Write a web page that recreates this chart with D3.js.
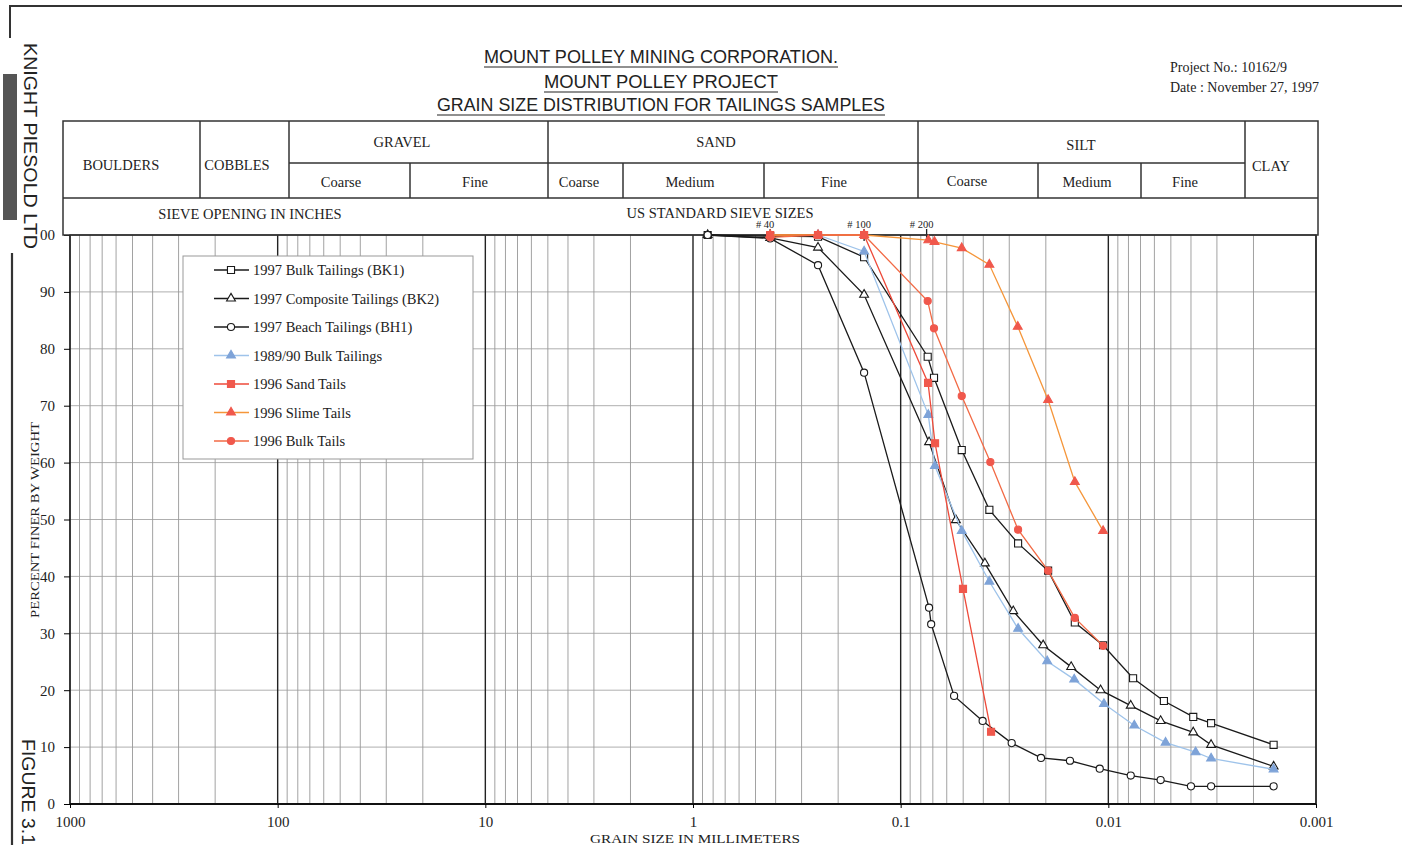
<!DOCTYPE html>
<html>
<head>
<meta charset="utf-8">
<script src="https://cdn.jsdelivr.net/npm/d3@7"></script>
<style>
  body { margin: 0; background: #fff; }
  svg { display: block; }
  text { font-family: "Liberation Serif", "Times New Roman", serif; fill: #222; }
  .sans { font-family: "Liberation Sans", Arial, sans-serif; }
</style>
</head>
<body>
<div id="chart"></div>
<script>
// grain sizes (mm) and percent finer for each sample
const bk1Size = [0.85, 0.425, 0.25, 0.15, 0.0741, 0.0691, 0.0508, 0.0374, 0.0272, 0.0195, 0.0145, 0.0106, 0.0076, 0.0054, 0.0039, 0.0032, 0.0016]
const bk1Pct  = [100, 99.8, 99.7, 96.1, 78.6, 74.9, 62.2, 51.7, 45.8, 41.0, 31.9, 27.9, 22.1, 18.1, 15.3, 14.2, 10.4]

const bk2Size = [0.85, 0.425, 0.25, 0.15, 0.073, 0.0542, 0.0393, 0.0287, 0.0206, 0.0151, 0.0109, 0.0078, 0.0056, 0.0039, 0.0032, 0.0016]
const bk2Pct  = [100, 99.5, 97.8, 89.5, 63.6, 49.9, 42.3, 33.9, 27.9, 24.1, 20.0, 17.3, 14.6, 12.6, 10.4, 6.6]

const bh1Size = [0.85, 0.425, 0.25, 0.15, 0.073, 0.0713, 0.0553, 0.0403, 0.0292, 0.0211, 0.0153, 0.011, 0.0078, 0.0056, 0.004, 0.0032, 0.0016]
const bh1Pct  = [100, 99.4, 94.7, 75.8, 34.5, 31.6, 19.0, 14.6, 10.7, 8.1, 7.6, 6.2, 5.0, 4.2, 3.1, 3.1, 3.1]

const bulk8990Size = [0.25, 0.15, 0.0736, 0.0684, 0.0508, 0.0374, 0.0272, 0.0197, 0.0146, 0.0105, 0.0075, 0.0053, 0.0038, 0.0032, 0.0016]
const bulk8990Pct  = [100, 97.1, 68.4, 59.4, 48.0, 39.1, 30.8, 25.1, 21.9, 17.6, 13.8, 10.8, 9.1, 8.0, 6.1]

const sand96Size = [0.425, 0.25, 0.15, 0.0738, 0.0683, 0.0501, 0.0367]
const sand96Pct  = [100, 100, 100, 74.0, 63.4, 37.8, 12.7]

const slime96Size = [0.425, 0.25, 0.15, 0.0736, 0.0687, 0.0508, 0.0374, 0.0273, 0.0195, 0.0145, 0.0106]
const slime96Pct  = [100, 100, 100, 99.1, 98.8, 97.7, 94.8, 83.9, 71.0, 56.6, 48.0]

const bulk96Size = [0.425, 0.25, 0.15, 0.0741, 0.0691, 0.0508, 0.037, 0.0272, 0.0195, 0.0145, 0.0106]
const bulk96Pct  = [99.6, 100, 100, 88.4, 83.6, 71.7, 60.1, 48.2, 41.0, 32.7, 27.8]

const seriesNames = ['1997 Bulk Tailings (BK1)', '1997 Composite Tailings (BK2)', '1997 Beach Tailings (BH1)',
  '1989/90 Bulk Tailings', '1996 Sand Tails', '1996 Slime Tails', '1996 Bulk Tails']

const xTicks = [1000, 100, 10, 1, 0.1, 0.01, 0.001]
const xTickLabels = ['1000', '100', '10', '1', '0.1', '0.01', '0.001']
const sieveSizes = [0.425, 0.15, 0.075]
const sieveLabels = ['# 40', '# 100', '# 200']

const series = [
  {name: seriesNames[0], size: bk1Size, pct: bk1Pct, line: '#1a1a1a', mark: 'square', fill: '#fff', ms: '#1a1a1a'},
  {name: seriesNames[1], size: bk2Size, pct: bk2Pct, line: '#1a1a1a', mark: 'triangle', fill: '#fff', ms: '#1a1a1a'},
  {name: seriesNames[2], size: bh1Size, pct: bh1Pct, line: '#1a1a1a', mark: 'circle', fill: '#fff', ms: '#1a1a1a'},
  {name: seriesNames[3], size: bulk8990Size, pct: bulk8990Pct, line: '#9ec3ea', mark: 'triangle', fill: '#7ea3d8', ms: '#7ea3d8'},
  {name: seriesNames[4], size: sand96Size, pct: sand96Pct, line: '#ee4a3a', mark: 'square', fill: '#f0584c', ms: '#f0584c'},
  {name: seriesNames[5], size: slime96Size, pct: slime96Pct, line: '#f5963a', mark: 'triangle', fill: '#f0584c', ms: '#f0584c'},
  {name: seriesNames[6], size: bulk96Size, pct: bulk96Pct, line: '#f26a45', mark: 'circle', fill: '#f0584c', ms: '#f0584c'}
]

const width = 1402, height = 845
const svg = d3.select('#chart').append('svg')
  .attr('width', width)
  .attr('height', height)
svg.append('rect').attr('width', width).attr('height', height).attr('fill', '#fff')

// scales
const x = d3.scaleLog().domain([1000, 0.001]).range([70, 1316])
const y = d3.scaleLinear().domain([0, 100]).range([804, 235])

// grid
const grid = svg.append('g')
const isMajor = v => Math.abs(Math.log10(v) - Math.round(Math.log10(v))) < 1e-9
const gridVals = x.ticks().filter(v => v <= 1000 && v >= 0.001)
grid.selectAll('line.v')
  .data(gridVals.filter(v => !isMajor(v)))
  .enter().append('line')
    .attr('x1', d => x(d)).attr('x2', d => x(d))
    .attr('y1', y(0)).attr('y2', y(100))
    .attr('stroke', '#8a8a8a').attr('stroke-width', 0.8)
grid.selectAll('line.h')
  .data(d3.range(10, 100, 10))
  .enter().append('line')
    .attr('x1', x(1000)).attr('x2', x(0.001))
    .attr('y1', d => y(d)).attr('y2', d => y(d))
    .attr('stroke', '#9a9a9a').attr('stroke-width', 0.8)
grid.selectAll('line.m')
  .data(gridVals.filter(v => isMajor(v)))
  .enter().append('line')
    .attr('x1', d => x(d)).attr('x2', d => x(d))
    .attr('y1', y(0)).attr('y2', y(100))
    .attr('stroke', '#222').attr('stroke-width', 1.4)

// frame
svg.append('rect')
  .attr('x', x(1000)).attr('y', y(100))
  .attr('width', x(0.001) - x(1000)).attr('height', y(0) - y(100))
  .attr('fill', 'none').attr('stroke', '#222').attr('stroke-width', 1.3)
svg.append('line')
  .attr('x1', x(1000)).attr('x2', x(0.001)).attr('y1', y(0)).attr('y2', y(0))
  .attr('stroke', '#111').attr('stroke-width', 2)

// axes
const xAxis = svg.append('g')
  .attr('transform', `translate(0,${y(0)})`)
  .call(d3.axisBottom(x).tickValues(xTicks).tickFormat((d, i) => xTickLabels[i]).tickSize(4).tickPadding(8))
xAxis.select('.domain').remove()
xAxis.selectAll('text').style('font-size', '15px').attr('fill', '#222')

const yAxis = svg.append('g')
  .attr('transform', `translate(${x(1000)},0)`)
  .call(d3.axisLeft(y).tickValues(d3.range(0, 101, 10)).tickSize(6).tickPadding(9))
yAxis.select('.domain').remove()
yAxis.selectAll('text').style('font-size', '15px').attr('fill', '#222')

svg.append('text')
  .attr('transform', 'translate(39,520) rotate(-90)')
  .attr('text-anchor', 'middle')
  .attr('textLength', 196).attr('lengthAdjust', 'spacingAndGlyphs')
  .style('font-size', '13.5px')
  .text('PERCENT FINER BY WEIGHT')
svg.append('text')
  .attr('x', 695).attr('y', 843)
  .attr('text-anchor', 'middle')
  .attr('textLength', 210).attr('lengthAdjust', 'spacingAndGlyphs')
  .style('font-size', '13px')
  .text('GRAIN SIZE IN MILLIMETERS')

// sieve marks on top edge
svg.selectAll('line.sieve')
  .data(sieveSizes)
  .enter().append('line')
    .attr('x1', d => x(d)).attr('x2', d => x(d))
    .attr('y1', y(100) - 6).attr('y2', y(100) + 6)
    .attr('stroke', '#222').attr('stroke-width', 1.3)
svg.selectAll('text.sieve')
  .data(sieveSizes)
  .enter().append('text')
    .attr('x', d => x(d) - 5).attr('y', 228)
    .attr('text-anchor', 'middle')
    .style('font-size', '10.5px')
    .text((d, i) => sieveLabels[i])

// header table
const hdr = svg.append('g').attr('stroke', '#333').attr('stroke-width', 1.5)
hdr.append('rect').attr('x', 63).attr('y', 121).attr('width', 1255).attr('height', 114).attr('fill', 'none')
hdr.append('line').attr('x1', 63).attr('x2', 1318).attr('y1', 198).attr('y2', 198)
hdr.append('line').attr('x1', 289).attr('x2', 1245).attr('y1', 163).attr('y2', 163)
const fullCols = [200, 289, 548, 918, 1245]
const halfCols = [410, 623, 764, 1038, 1141]
fullCols.forEach(c => hdr.append('line').attr('x1', c).attr('x2', c).attr('y1', 121).attr('y2', 198))
halfCols.forEach(c => hdr.append('line').attr('x1', c).attr('x2', c).attr('y1', 163).attr('y2', 198))

const hdrLabels = [
  ['BOULDERS', 121, 170], ['COBBLES', 237, 170], ['GRAVEL', 402, 147], ['Coarse', 341, 187], ['Fine', 475, 187],
  ['SAND', 716, 147], ['Coarse', 579, 187], ['Medium', 690, 187], ['Fine', 834, 187],
  ['SILT', 1081, 150], ['Coarse', 967, 186], ['Medium', 1087, 187], ['Fine', 1185, 187], ['CLAY', 1271, 171],
  ['SIEVE OPENING IN INCHES', 250, 219], ['US STANDARD SIEVE SIZES', 720, 218]
]
svg.selectAll('text.hdr')
  .data(hdrLabels)
  .enter().append('text')
    .attr('x', d => d[1]).attr('y', d => d[2])
    .attr('text-anchor', 'middle')
    .style('font-size', '14.5px')
    .text(d => d[0])

// title
const titleLines = [
  ['MOUNT POLLEY MINING CORPORATION.', 63, 354],
  ['MOUNT POLLEY PROJECT', 88, 234],
  ['GRAIN SIZE DISTRIBUTION FOR TAILINGS SAMPLES', 111, 448]
]
titleLines.forEach(t => {
  svg.append('text').attr('class', 'sans')
    .attr('x', 661).attr('y', t[1])
    .attr('text-anchor', 'middle')
    .attr('textLength', t[2]).attr('lengthAdjust', 'spacingAndGlyphs')
    .style('font-size', '18px')
    .text(t[0])
  svg.append('line')
    .attr('x1', 661 - t[2] / 2).attr('x2', 661 + t[2] / 2)
    .attr('y1', t[1] + 4).attr('y2', t[1] + 4)
    .attr('stroke', '#222').attr('stroke-width', 1.2)
})
svg.append('text').attr('x', 1170).attr('y', 72).style('font-size', '14px').text('Project No.: 10162/9')
svg.append('text').attr('x', 1170).attr('y', 92).style('font-size', '14px').text('Date : November 27, 1997')

// page border and side texts
svg.append('path').attr('d', 'M10,38 V6 H1402').attr('fill', 'none').attr('stroke', '#333').attr('stroke-width', 2)
svg.append('rect').attr('x', 18).attr('y', 225).attr('width', 22).attr('height', 25).attr('fill', '#fff')
svg.append('rect').attr('x', 3).attr('y', 74).attr('width', 14).attr('height', 146).attr('fill', '#555')
svg.append('line').attr('x1', 12).attr('x2', 12).attr('y1', 253).attr('y2', 845).attr('stroke', '#333').attr('stroke-width', 2.2)
svg.append('text').attr('class', 'sans')
  .attr('transform', 'translate(24,146) rotate(90)')
  .attr('text-anchor', 'middle')
  .attr('textLength', 206).attr('lengthAdjust', 'spacingAndGlyphs')
  .style('font-size', '18px')
  .text('KNIGHT PIESOLD LTD')
svg.append('text').attr('class', 'sans')
  .attr('transform', 'translate(22,792) rotate(90)')
  .attr('text-anchor', 'middle')
  .attr('textLength', 106).attr('lengthAdjust', 'spacingAndGlyphs')
  .style('font-size', '18px')
  .text('FIGURE 3.1')

// markers
const symbolOf = {
  square: d3.symbol().type(d3.symbolSquare).size(50),
  triangle: d3.symbol().type(d3.symbolTriangle).size(34),
  circle: d3.symbol().type(d3.symbolCircle).size(40)
}

// data lines
const lineGen = d3.line().x(d => x(d[0])).y(d => y(d[1]))
series.forEach(s => {
  const pts = s.size.map((v, i) => [v, s.pct[i]])
  const g = svg.append('g')
  g.append('path')
    .attr('d', lineGen(pts))
    .attr('fill', 'none').attr('stroke', s.line).attr('stroke-width', 1.3)
  g.selectAll('path.mk')
    .data(pts)
    .enter().append('path')
      .attr('transform', d => `translate(${x(d[0])},${y(d[1])})`)
      .attr('d', symbolOf[s.mark]())
      .attr('fill', s.fill).attr('stroke', s.ms).attr('stroke-width', 1.1)
})

// legend
const legend = svg.append('g')
legend.append('rect')
  .attr('x', 183).attr('y', 256).attr('width', 290).attr('height', 203)
  .attr('fill', '#fff').attr('stroke', '#999').attr('stroke-width', 1)
series.forEach((s, i) => {
  const ly = 270 + i * 28.5
  legend.append('line').attr('x1', 214).attr('x2', 249).attr('y1', ly).attr('y2', ly)
    .attr('stroke', s.line).attr('stroke-width', 1.3)
  legend.append('path').attr('transform', `translate(231,${ly})`)
    .attr('d', symbolOf[s.mark]())
    .attr('fill', s.fill).attr('stroke', s.ms).attr('stroke-width', 1.1)
  legend.append('text').attr('x', 253).attr('y', ly + 5)
    .style('font-size', '14.5px')
    .text(s.name)
})
</script>
</body>
</html>
